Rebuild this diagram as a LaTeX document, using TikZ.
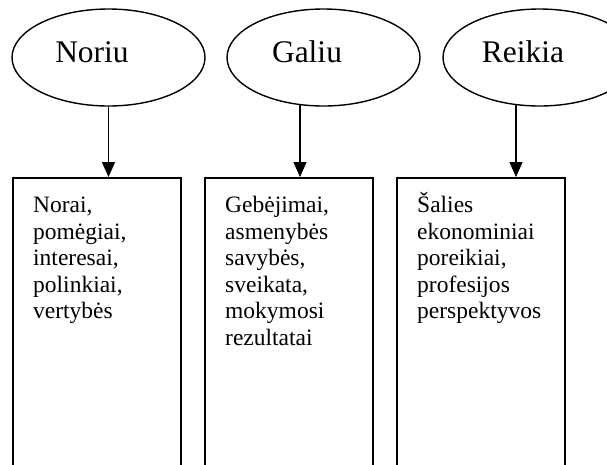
\documentclass[tikz,border=0pt]{standalone}
\usepackage{fontspec}
\setmainfont{Liberation Serif}
\usetikzlibrary{shapes.geometric,arrows.meta}

\begin{document}
\begin{tikzpicture}[x=1pt,y=-1pt,
    oval/.style={ellipse,draw,line width=1.4pt,minimum width=193pt,minimum height=97pt,inner sep=0pt},
    ovaltext/.style={anchor=base,inner sep=0pt,font=\fontsize{31.5}{36}\selectfont},
    column/.style={rectangle,draw,line width=1.8pt,anchor=north west,minimum width=168pt,minimum height=320pt,inner sep=0pt},
    columntext/.style={anchor=base west,text width=140pt,align=left,inner sep=0pt,font=\fontsize{23.5}{26.5}\selectfont},
    arr/.style={line width=1.4pt,-{Triangle[width=13pt,length=15pt]}}]
      \useasboundingbox (0,0) rectangle (607,464);
      \clip (0,0) rectangle (607,464);
      % top ovals
      \node[oval](noriu) at (108.5,57.5){};
      \node[oval](galiu) at (323.5,57.5){};
      \node[oval](reikia) at (539.5,57.5){};
      \node[ovaltext](noriutext) at (92,62){Noriu};
      \node[ovaltext](galiutext) at (307,62){Galiu};
      \node[ovaltext](reikiatext) at (523,62){Reikia};
      % columns
      \node[column](norai) at (12,177){};
      \node[column](gebejimai) at (204,177){};
      \node[column](salies) at (396,177){};
      \node[columntext](noraitext) at ([xshift=21pt,yshift=-35.5pt]norai.north west)
        {Norai,\\pomėgiai,\\interesai,\\polinkiai,\\vertybės};
      \node[columntext](gebejimaitext) at ([xshift=21pt,yshift=-35.5pt]gebejimai.north west)
        {Gebėjimai,\\asmenybės\\savybės,\\sveikata,\\mokymosi\\rezultatai};
      \node[columntext](saliestext) at ([xshift=21pt,yshift=-35.5pt]salies.north west)
        {Šalies\\ekonominiai\\poreikiai,\\profesijos\\perspektyvos};
      % arrows
      \draw[arr] (noriu.south) -- (noriu.south |- norai.north);
      \draw[arr] ([xshift=-23.5pt,yshift=1.5pt]galiu.south) -- ([xshift=-23.5pt]galiu.south |- gebejimai.north);
      \draw[arr] ([xshift=-23.5pt,yshift=1.5pt]reikia.south) -- ([xshift=-23.5pt]reikia.south |- salies.north);
    \end{tikzpicture}
\end{document}
